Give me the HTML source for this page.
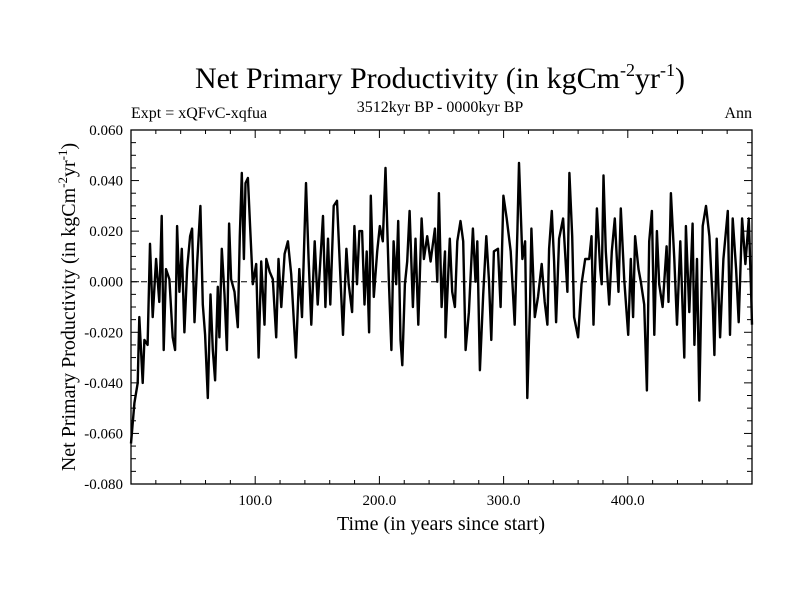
<!DOCTYPE html>
<html><head><meta charset="utf-8">
<style>
html,body{margin:0;padding:0;background:#fff;}
svg{display:block;font-family:"Liberation Serif",serif;}
</style></head>
<body>
<svg id="chart" width="800" height="600" viewBox="0 0 800 600" xmlns="http://www.w3.org/2000/svg">
<rect x="0" y="0" width="800" height="600" fill="#fff"/>
<text x="440" y="88" font-size="30" text-anchor="middle">Net Primary Productivity (in kgCm<tspan font-size="18" dy="-12">-2</tspan><tspan dy="12">yr</tspan><tspan font-size="18" dy="-12">-1</tspan><tspan dy="12">)</tspan></text>
<text x="131" y="118" font-size="16">Expt = xQFvC-xqfua</text>
<text x="440" y="112" font-size="16" text-anchor="middle">3512kyr BP - 0000kyr BP</text>
<text x="752" y="118" font-size="16" text-anchor="end">Ann</text>
<g id="axes"></g>
<text x="441" y="530" font-size="20" text-anchor="middle">Time (in years since start)</text>
<text transform="translate(75,307) rotate(-90)" font-size="20" text-anchor="middle">Net Primary Productivity (in kgCm<tspan font-size="13" dy="-8">-2</tspan><tspan dy="8">yr</tspan><tspan font-size="13" dy="-8">-1</tspan><tspan dy="8">)</tspan></text>
</svg>
<script>
const years = [0,2.7,5.4,6.7,9.4,10.8,13.4,15.3,17.5,20.2,22.8,24.7,26.3,28.2,30.9,33.6,35.5,37.1,39,40.9,43,45.2,47.6,49.2,51.1,53.2,55.9,57.8,59.7,61.8,64,65.9,67.7,69.9,71.2,73.1,75.3,77.2,79,80.6,83.3,86,87.6,89.2,90.9,92.2,94.1,96,98.1,100.8,102.7,104.8,107.5,108.9,111.6,114.2,116.9,118.8,121,123.7,126.3,129,
132.8,135.5,137.7,140.9,143,145.2,147.9,150.3,152.4,154.6,156.5,158.6,160.5,163.2,165.9,168,170.7,173.4,175.3,178,179.9,182,183.9,186.1,188,189.8,191.7,193.1,195.5,198.2,200.3,202.7,204.9,207.6,209.7,211.4,213.5,215.1,217,218.4,220.5,222.4,224.3,227,229.1,231.3,234,235.8,238.5,241.2,244.7,246.6,247.9,250.1,252.8,
253.2,256.7,258.6,260.8,262.7,265.3,267.5,269.4,272.1,275.3,277.4,278.8,280.9,283.6,286.1,288.2,290.1,292.2,295.5,297.6,299.8,302.5,305.7,308.9,311.1,312.4,315.1,317.3,319.1,321.3,322.4,325.1,327.7,330.7,333.1,335.3,336.6,338.8,340.7,342.3,344.7,347.9,351.4,353,355.2,356.8,360,362.7,365.7,368.9,370.8,372.4,375.1,377.8,
379,380.4,382.3,385,387.1,389.5,392.5,394.4,397.1,400.3,402.4,404.3,405.9,408.6,410.5,413.2,415.4,417.2,419.4,421.3,423.4,425.3,428,431.2,432.8,434.7,437.4,439.6,442.3,445.5,446.8,449.5,452.2,453.6,455.7,457.6,460.3,463,465.7,468.4,469.7,471.6,474.3,477,480.5,482.3,484.5,487.2,489.3,492,494.7,497.4,499.3,500];
const nppMilli = [-64,-48,-40,-14,-40,-23,-25,15,-14,9,-8,26,-27,5,1,-22,-27,22,-4,13,-20,5,18,21,-16,7,30,-9,-21,-46,-5,-27,-39,-2,-22,13,-5,-27,23,1,-4,-18,18,43,9,39,41,21,-1,7,-30,8,-17,9,4,1,-22,9,-10,11,16,3,
-30,5,-14,39,9,-17,16,-9,8,26,-10,17,-9,30,32,8,-21,13,-1,-12,22,-1,20,20,-9,12,-20,34,-6,12,22,16,45,1,-27,16,-1,24,-23,-33,-1,8,28,-10,17,-17,25,9,18,8,21,0,35,-10,12,
-22,17,-4,-10,16,24,16,-27,-12,21,0,16,-35,-5,18,1,-23,12,13,-10,34,25,12,-17,20,47,9,16,-46,-8,21,-14,-6,7,-8,-17,13,28,8,-16,17,25,-4,43,18,-14,-22,-1,9,9,18,-17,29,5,
-1,42,12,-9,12,25,-4,29,1,-21,9,-14,18,5,0,-9,-43,16,28,-21,20,-1,-10,14,-8,35,9,-17,16,-30,22,-12,23,-25,9,-47,22,30,18,-9,-29,17,-22,9,28,-21,25,5,-16,25,7,25,-4,-17];
const yTickValues = [0.06,0.04,0.02,0,-0.02,-0.04,-0.06,-0.08];
const yTickLabels = ["0.060","0.040","0.020","0.000","-0.020","-0.040","-0.060","-0.080"];
const xTickValues = [100,200,300,400];
const xTickLabels = ["100.0","200.0","300.0","400.0"];

const NS = "http://www.w3.org/2000/svg";
const L=131,R=752,T=130,B=484;
const xMin=0,xMax=500,yMin=-0.08,yMax=0.06;
function xs(v){return L+(v-xMin)/(xMax-xMin)*(R-L);}
function ys(v){return B-(v-yMin)/(yMax-yMin)*(B-T);}
const g=document.getElementById('axes');
function mk(tag,attrs){const e=document.createElementNS(NS,tag);for(const k in attrs)e.setAttribute(k,attrs[k]);g.appendChild(e);return e;}

const z=mk('line',{x1:L,x2:R,y1:ys(0),y2:ys(0),stroke:'#000','stroke-width':1,'stroke-dasharray':'6,4'});



let d='';
for(let i=0;i<years.length;i++){d+=(i?'L':'M')+xs(years[i]).toFixed(1)+','+ys(nppMilli[i]/1000).toFixed(1);}
const p=mk('path',{d:d,fill:'none',stroke:'#000','stroke-width':2.4,'stroke-linejoin':'round'});



const fr=mk('rect',{x:L,y:T,width:R-L,height:B-T,fill:'none',stroke:'#000','stroke-width':1.3});



for(let v=yMin;v<=yMax+1e-9;v+=0.005){
  const major=Math.abs(Math.round(v*50)-v*50)<1e-6;
  const len=major?8:5;
  const a=mk('line',{x1:L,x2:L+len,y1:ys(v),y2:ys(v),stroke:'#000','stroke-width':1});
  
  
  const b=mk('line',{x1:R,x2:R-len,y1:ys(v),y2:ys(v),stroke:'#000','stroke-width':1});
  
  
}
for(let i=0;i<yTickValues.length;i++){
  const t=mk('text',{x:123,y:ys(yTickValues[i])+5,'font-size':15,'text-anchor':'end'});
  t.textContent=yTickLabels[i];
  
  
}
for(let v=20;v<xMax;v+=20){
  const major=v%100===0;
  const len=major?8:4;
  const a=mk('line',{x1:xs(v),x2:xs(v),y1:B,y2:B-len,stroke:'#000','stroke-width':1});
  
  
  const b=mk('line',{x1:xs(v),x2:xs(v),y1:T,y2:T+len,stroke:'#000','stroke-width':1});
  
  
}
for(let i=0;i<xTickValues.length;i++){
  const t=mk('text',{x:xs(xTickValues[i]),y:505,'font-size':15,'text-anchor':'middle'});
  t.textContent=xTickLabels[i];
  
  
}
</script>
</body></html>
